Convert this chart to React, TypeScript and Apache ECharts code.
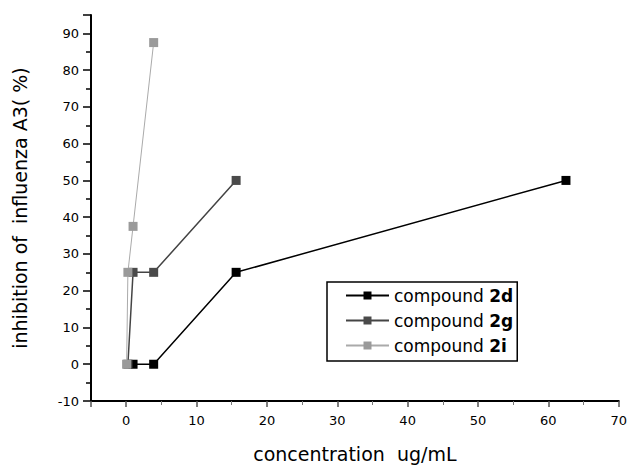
import React, { useEffect, useRef } from "react";
import * as echarts from "echarts";

// concentrations (ug/mL) and inhibition (%) per compound
const seriesNames = ["compound 2d", "compound 2g", "compound 2i"];
const conc2d = [0.977, 3.906, 15.625, 62.5];
const inh2d = [0, 0, 25, 50];
const conc2g = [0.244, 0.977, 3.906, 15.625];
const inh2g = [0, 25, 25, 50];
const conc2i = [0.061, 0.244, 0.977, 3.906];
const inh2i = [0, 25, 37.5, 87.5];

const xTickLabels = [0, 10, 20, 30, 40, 50, 60, 70];
const yTickLabels = [-10, 0, 10, 20, 30, 40, 50, 60, 70, 80, 90];

const FONT = "DejaVu Sans";

function pairs(xs: number[], ys: number[]) {
  return xs.map((x, i) => [x, ys[i]]);
}

export default function App() {
  const ref = useRef<HTMLDivElement>(null);
  useEffect(() => {
    if (!ref.current) return;
    const chart = echarts.init(ref.current, undefined, { renderer: "svg" });
    const colors = ["#000000", "#4a4a4a", "#9a9a9a"];
    const lineColors = ["#000000", "#444444", "#aaaaaa"];
    const lineWidths = [1.5, 1.5, 1];
    const datas = [pairs(conc2d, inh2d), pairs(conc2g, inh2g), pairs(conc2i, inh2i)];
    chart.setOption({
      animation: false,
      backgroundColor: "#ffffff",
      grid: { left: 91, right: 10, top: 15, bottom: 57 },
      legend: {
        orient: "vertical",
        left: 327,
        top: 282,
        data: seriesNames,
        itemWidth: 43,
        itemHeight: 10,
        itemGap: 8,
        padding: [5, 4, 7, 18],
        borderColor: "#000",
        borderWidth: 1.5,
        backgroundColor: "#fff",
        formatter: (n: string) => {
          const parts = n.split(" ");
          return `${parts[0]} {b|${parts[1]}}`;
        },
        textStyle: {
          fontFamily: FONT,
          fontSize: 17,
          color: "#000",
          rich: { b: { fontFamily: FONT, fontSize: 17, fontWeight: "bold", color: "#000" } },
        },
      },
      xAxis: {
        type: "value",
        min: -5,
        max: 70,
        minInterval: 10,
        maxInterval: 10,
        name: "concentration  ug/mL",
        nameLocation: "middle",
        nameGap: 43,
        nameTextStyle: { fontFamily: FONT, fontSize: 19, color: "#000" },
        axisLine: { show: true, onZero: false, lineStyle: { color: "#000", width: 2 } },
        axisTick: { show: true, length: 6, lineStyle: { color: "#555", width: 1.5 } },
        minorTick: { show: true, splitNumber: 2, length: 4, lineStyle: { color: "#777" } },
        splitLine: { show: false },
        axisLabel: {
          showMinLabel: false,
          margin: 13,
          fontFamily: FONT,
          fontSize: 13,
          color: "#000",
          formatter: (v: number) => (xTickLabels.includes(v) ? String(v) : ""),
        },
      },
      yAxis: {
        type: "value",
        min: -10,
        max: 95,
        interval: 10,
        name: "inhibition of  influenza A3( %)",
        nameLocation: "middle",
        nameGap: 62,
        nameTextStyle: { fontFamily: FONT, fontSize: 19, color: "#000" },
        axisLine: { show: true, onZero: false, lineStyle: { color: "#000", width: 2 } },
        axisTick: { show: true, length: 8, lineStyle: { color: "#000", width: 1.5 } },
        minorTick: { show: true, splitNumber: 2, length: 5, lineStyle: { color: "#000", width: 1.5 } },
        splitLine: { show: false },
        axisLabel: {
          showMaxLabel: false,
          margin: 12,
          fontFamily: FONT,
          fontSize: 13,
          color: "#000",
          formatter: (v: number) => (yTickLabels.includes(v) ? String(v) : ""),
        },
      },
      series: seriesNames.map((name, i) => ({
        name,
        type: "line",
        data: datas[i],
        symbol: "rect",
        symbolSize: 9,
        itemStyle: { color: colors[i] },
        lineStyle: { color: lineColors[i], width: lineWidths[i] },
        z: 2 + i,
      })),
    });
    return () => chart.dispose();
  }, []);
  return (
    <div
      ref={ref}
      style={{ position: "fixed", left: 0, top: 0, width: 630, height: 468, background: "#fff" }}
    />
  );
}
